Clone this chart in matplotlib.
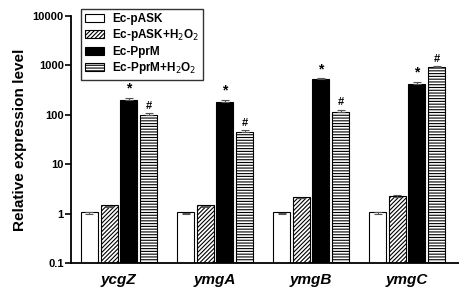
import matplotlib
matplotlib.use("Agg")
import matplotlib.pyplot as plt
import numpy as np

plt.rcParams['font.family'] = ['Liberation Sans', 'DejaVu Sans']
plt.rcParams['hatch.linewidth'] = 0.8

genes = ["ycgZ", "ymgA", "ymgB", "ymgC"]
series = ["Ec-pASK", "Ec-pASK+H$_2$O$_2$", "Ec-PprM", "Ec-PprM+H$_2$O$_2$"]
pask = [1.0, 1.0, 1.0, 1.0]
pask_err = [0.1, 0.03, 0.03, 0.07]
pask_h2o2 = [1.4, 1.38, 2.05, 2.2]
pask_h2o2_err = [0.05, 0.05, 0.05, 0.15]
pprm = [200, 180, 520, 420]
pprm_err = [20, 15, 20, 40]
pprm_h2o2 = [100, 45, 115, 900]
pprm_h2o2_err = [8, 4, 10, 50]
marks_pprm = ["*", "*", "*", "*"]
marks_pprm_h2o2 = ["#", "#", "#", "#"]
yticks = [0.1, 1, 10, 100, 1000, 10000]
ytick_labels = ["0.1", "1", "10", "100", "1000", "10000"]

fig = plt.figure(figsize=(4.59, 2.90), dpi=100)
ax = fig.add_axes([0.154, 0.092, 0.846, 0.854])

x = np.arange(len(genes))
pitch = 0.205
width = 0.177
styles = [
    dict(facecolor="white", edgecolor="black", hatch=None),
    dict(facecolor="white", edgecolor="black", hatch="////////"),
    dict(facecolor="black", edgecolor="black", hatch=None),
    dict(facecolor="white", edgecolor="black", hatch="------"),
]
vals = [pask, pask_h2o2, pprm, pprm_h2o2]
errs = [pask_err, pask_h2o2_err, pprm_err, pprm_h2o2_err]
handles = []
for i, (v, e, st, name) in enumerate(zip(vals, errs, styles, series)):
    pos = x + (i - 1.5) * pitch
    b = ax.bar(pos, v, width, bottom=0.1, label=name, linewidth=0.8, **st)
    ax.errorbar(pos, v, yerr=[np.zeros(len(e)), e], fmt="none", ecolor="#555555",
                elinewidth=0.8, capsize=3, capthick=0.8)
    handles.append(b)

for i in range(len(genes)):
    p2 = x[i] + 0.5 * pitch
    p3 = x[i] + 1.5 * pitch
    ax.text(p2, (pprm[i] + pprm_err[i]) * 1.12, marks_pprm[i], ha="center", va="bottom",
            fontsize=10, fontweight="bold")
    ax.text(p3, (pprm_h2o2[i] + pprm_h2o2_err[i]) * 1.12, marks_pprm_h2o2[i], ha="center",
            va="bottom", fontsize=8, fontweight="bold")

ax.set_yscale("log")
ax.set_ylim(0.1, 10000)
ax.set_xlim(-0.503, 3.54)
ax.set_yticks(yticks)
ax.set_yticklabels(ytick_labels, fontsize=8, fontweight="bold")
ax.minorticks_off()
ax.tick_params(axis="y", length=4, width=1.2, pad=1)
ax.set_xticks(x)
ax.set_xticklabels(genes, fontsize=11, fontweight="bold", fontstyle="italic")
ax.tick_params(axis="x", length=0, pad=7)
for s in ["top", "right"]:
    ax.spines[s].set_visible(False)
for s in ["left", "bottom"]:
    ax.spines[s].set_linewidth(1.3)
ax.set_ylabel("Relative expression level", fontsize=11, fontweight="bold", labelpad=4)

leg = ax.legend(handles=handles, loc="upper left", bbox_to_anchor=(0.176, 0.969),
                bbox_transform=fig.transFigure, frameon=True, fancybox=False,
                edgecolor="black", prop=dict(size=8.5, weight="bold"),
                handlelength=1.6, handleheight=0.7, labelspacing=0.2,
                borderpad=0.35, handletextpad=0.7, borderaxespad=0)
leg.get_frame().set_linewidth(1.0)

fig.savefig("out.png", dpi=100)
